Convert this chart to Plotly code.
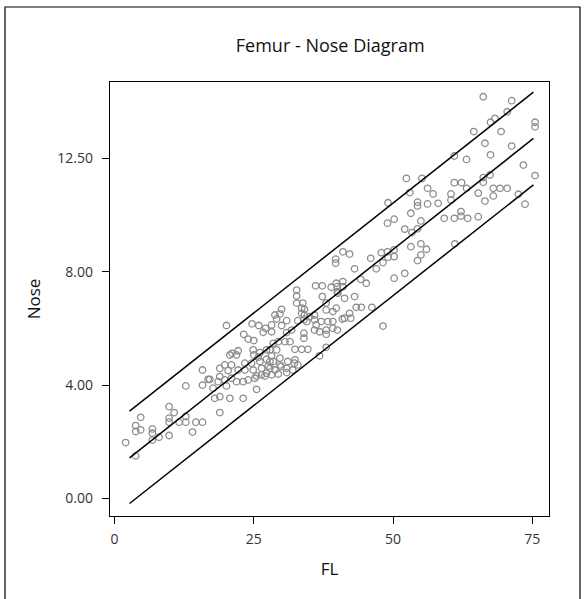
import plotly.graph_objects as go

# Scatter data (FL, Nose)
fl = [15.8, 12.8, 15.8, 16.8, 9.8, 10.7, 9.8, 9.8, 11.6, 12.8, 12.8, 14.6, 15.8, 4.7, 3.8, 4.7, 3.8, 6.8, 6.8, 6.8, 8.0, 9.8, 14.0, 2.0, 3.8,
      20.1, 24.7, 25.9, 27.1, 28.2, 28.8, 26.7, 28.2, 23.2, 24.0, 25.0, 22.2, 21.1, 24.9, 20.7, 21.9, 25.0, 26.1, 27.3, 28.5,
      19.8, 21.0, 23.4, 24.6, 26.1, 27.3, 28.2, 18.9, 20.4, 22.2, 23.4, 24.9, 26.4, 27.6, 17.1, 18.9, 18.6, 19.8, 21.0, 21.9,
      23.1, 24.0, 25.2, 26.4, 27.3, 17.7, 20.1, 18.9, 18.0, 20.7, 23.1, 25.5, 18.9,
      39.7, 39.7, 32.7, 32.7, 36.1, 37.3, 38.9, 39.8, 41.0, 40.1, 32.7, 33.8, 34.1, 34.1, 30.0, 29.7, 29.1, 30.9, 30.0, 32.9,
      34.0, 35.0, 35.9, 35.9, 38.0, 38.0, 39.2, 37.1, 38.3, 39.2, 40.9, 40.0, 35.9, 34.0, 34.0, 31.8, 30.9, 38.0, 29.4, 30.6,
      31.5, 32.4, 33.6, 34.7, 38.0, 36.8, 27.9, 29.1, 27.9, 29.7, 29.7, 31.1, 32.4, 32.9, 30.9, 28.8, 27.9,
      49.1, 53.2, 49.0, 50.2, 52.1, 53.4, 41.0, 42.2, 46.0, 47.9, 49.0, 50.2, 49.1, 50.2, 48.2, 47.0, 43.1, 53.2, 52.1, 50.2,
      44.2, 45.2, 40.0, 41.0, 40.0, 41.3, 43.1, 39.8, 43.4, 44.3, 46.2, 42.2, 41.3, 42.4, 48.2,
      61.0, 63.2, 52.4, 55.2, 56.2, 57.2, 53.0, 61.0, 62.3, 63.2, 60.4, 60.4, 54.4, 54.4, 56.2, 58.1, 55.0, 54.4, 59.2, 61.0,
      62.2, 62.2, 63.4, 65.3, 55.0, 56.0, 55.0, 54.4, 61.1,
      66.2, 71.3, 70.5, 68.3, 67.5, 64.5, 69.4, 75.5, 75.5, 66.5, 71.3, 67.5, 73.4, 75.5, 66.2, 67.4, 66.2, 68.0, 69.2, 70.5,
      65.3, 68.0, 66.5, 72.5, 73.7,
      25.8, 28.5, 29.9, 25.5, 27.0, 28.2, 29.4, 30.9, 32.0, 32.3,
      33.6, 33.6, 34.5, 36.2, 36.8, 38.0, 39.2, 37.3]

nose = [4.53, 3.97, 4.0, 4.2, 3.24, 3.03, 2.83, 2.69, 2.69, 2.89, 2.69, 2.69, 2.69, 2.86, 2.57, 2.42, 2.36, 2.45, 2.3, 2.06, 2.16, 2.22, 2.34, 1.97, 1.5,
        6.1, 6.16, 6.1, 6.0, 6.12, 6.47, 5.86, 5.88, 5.79, 5.62, 5.57, 5.21, 5.12, 5.24, 5.06, 5.06, 5.06, 5.14, 5.24, 5.47,
        4.71, 4.71, 4.77, 4.77, 4.83, 4.91, 5.03, 4.59, 4.51, 4.53, 4.53, 4.53, 4.59, 4.67, 4.2, 4.3, 4.12, 4.18, 4.24, 4.12,
        4.12, 4.18, 4.24, 4.36, 4.42, 3.89, 3.97, 3.59, 3.53, 3.53, 3.53, 3.85, 3.03,
        8.44, 8.3, 7.35, 7.14, 7.5, 7.5, 7.45, 7.59, 7.65, 7.24, 6.89, 6.89, 6.67, 6.47, 6.67, 6.51, 6.33, 6.27, 6.1, 6.27,
        6.3, 6.41, 6.47, 6.3, 6.89, 6.65, 6.59, 6.24, 6.24, 6.24, 6.33, 5.94, 5.94, 5.83, 5.65, 5.94, 5.85, 5.79, 5.53, 5.53,
        5.53, 5.26, 5.26, 5.26, 5.33, 5.03, 5.24, 5.24, 4.83, 4.95, 4.71, 4.83, 4.89, 4.71, 4.59, 4.53, 4.59,
        10.43, 10.06, 9.71, 9.85, 9.5, 9.38, 8.7, 8.62, 8.47, 8.67, 8.7, 8.77, 8.51, 8.53, 8.32, 8.1, 8.1, 8.88, 7.94, 7.77,
        7.73, 7.59, 7.47, 7.47, 7.29, 7.06, 7.12, 6.71, 6.74, 6.74, 6.74, 6.53, 6.36, 6.36, 6.08,
        12.08, 11.96, 11.29, 11.29, 10.94, 10.74, 10.79, 11.14, 11.14, 10.94, 10.74, 10.53, 10.45, 10.32, 10.39, 10.41, 9.79, 9.51, 9.88, 9.88,
        10.12, 9.96, 9.88, 9.94, 8.98, 8.79, 8.59, 8.39, 8.98,
        14.17, 14.03, 13.64, 13.41, 13.27, 12.94, 12.94, 13.27, 13.11, 12.53, 12.43, 12.12, 11.76, 11.39, 11.32, 11.41, 11.15, 10.94, 10.94, 10.94,
        10.77, 10.67, 10.49, 10.73, 10.38,
        4.98, 4.83, 4.65, 4.32, 4.32, 4.36, 4.39, 4.44, 4.53, 4.77,
        6.71, 6.53, 6.24, 6.12, 5.88, 5.94, 6.0, 7.12]

# Fit line and interval lines (endpoints)
line_fl = [2.7, 75.2]
line_fit = [1.43, 12.70]
line_upper = [3.08, 14.33]
line_lower = [-0.18, 11.06]

x_ticks = [0, 25, 50, 75]
x_ticktext = ["0", "25", "50", "75"]
y_ticks = [0, 4, 8, 12]
y_ticktext = ["0.00", "4.00", "8.00", "12.50"]

FONT = "Open Sans"
TXT = "#222222"

fig = go.Figure()
fig.add_trace(go.Scatter(
    x=fl, y=nose, mode="markers",
    marker=dict(symbol="circle-open", size=6.5, color="#8c8c8c", line=dict(width=1.3, color="#8c8c8c")),
    showlegend=False, hoverinfo="x+y"))
for ys in (line_upper, line_fit, line_lower):
    fig.add_trace(go.Scatter(x=line_fl, y=ys, mode="lines",
                             line=dict(color="black", width=1.5), showlegend=False, hoverinfo="skip"))

fig.update_layout(
    width=587, height=599,
    margin=dict(l=110, r=38, t=82, b=83, autoexpand=False),
    paper_bgcolor="white", plot_bgcolor="white",
    font=dict(family=FONT, color=TXT, size=14),
    title=dict(text="Femur - Nose Diagram", x=0.5625, xanchor="center", xref="container",
               y=1 - 46 / 599, yanchor="middle", font=dict(family=FONT, size=18, color="#111111")),
    xaxis=dict(range=[-0.81, 78.0], tickvals=x_ticks, ticktext=x_ticktext,
               ticks="outside", ticklen=7, tickcolor="black", tickwidth=1,
               showline=True, linecolor="black", linewidth=1.3, mirror=True,
               showgrid=False, zeroline=False, tickfont=dict(size=14, color="#333333"),
               ticklabelstandoff=3, automargin=False,
               title=dict(text="FL", standoff=16, font=dict(size=17, color="#111111"))),
    yaxis=dict(range=[-0.62, 14.69], tickvals=y_ticks, ticktext=y_ticktext,
               ticks="outside", ticklen=7, tickcolor="black", tickwidth=1,
               showline=True, linecolor="black", linewidth=1.3, mirror=True,
               showgrid=False, zeroline=False, tickfont=dict(size=14, color="#333333"),
               ticklabelstandoff=6, automargin=False,
               title=dict(text="Nose", standoff=12, font=dict(size=17, color="#111111"))),
    shapes=[dict(type="rect", xref="paper", yref="paper",
                 x0=(5 - 110) / 439, x1=(580 - 110) / 439,
                 y0=(516 - 620) / 434, y1=(516 - 7) / 434,
                 line=dict(color="black", width=1.2), fillcolor="rgba(0,0,0,0)", layer="below")],
)

fig.write_html("out.html", config={"displayModeBar": False},
               post_script="document.body.style.margin='0';document.body.style.overflow='hidden';")
